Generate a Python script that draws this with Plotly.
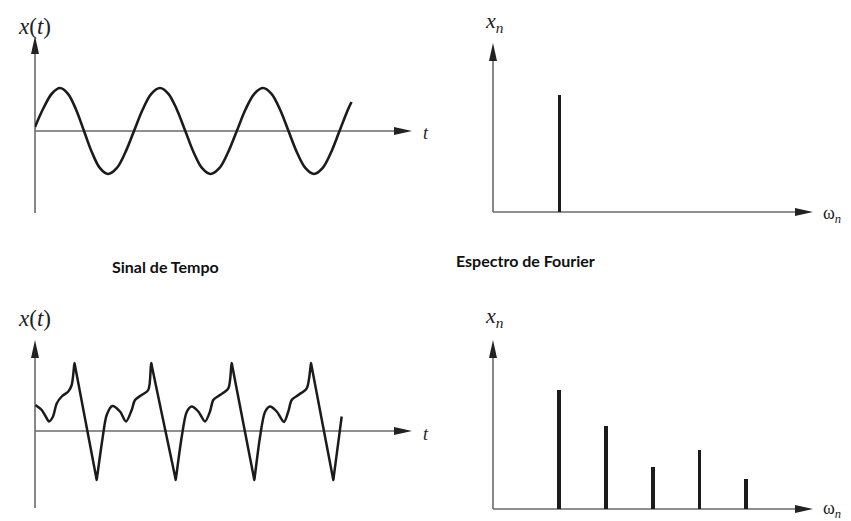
import plotly.graph_objects as go

W, H = 851, 521

# ---- data -------------------------------------------------------------
# pure sinusoid x(t) (top time signal)
t_sine = [0.0, 0.85, 1.7, 2.5, 3.3, 4.1, 4.9, 5.7, 6.5, 7.3, 8.17, 9.03, 9.9,
          10.77, 11.63, 12.5, 13.34, 14.18, 15.03, 15.87, 16.71, 17.55, 18.43,
          19.3, 20.18, 21.05, 21.93, 22.8, 23.65, 24.5, 25.35, 26.2, 27.05,
          27.9, 28.75, 29.6, 30.45, 31.3, 31.65]
x_sine = [0.4, 2.3, 3.75, 4.3, 3.72, 2.15, 0.0, -2.15, -3.72, -4.3, -3.72,
          -2.15, 0.0, 2.15, 3.72, 4.3, 3.72, 2.15, 0.0, -2.15, -3.72, -4.3,
          -3.72, -2.15, 0.0, 2.15, 3.72, 4.3, 3.72, 2.15, 0.0, -2.15, -3.72,
          -4.3, -3.72, -2.15, 0.0, 2.15, 2.9]

# periodic non-sinusoidal x(t) (bottom time signal)
t_wave = [0.05, 0.67, 1.07, 1.4, 1.8, 2.17, 2.67, 3.33, 3.67, 3.9, 3.95, 4.05,
          6.1, 6.17, 6.23, 6.73, 7.17, 7.73, 8.5, 9.1, 9.67, 10.0, 10.67, 11.33,
          11.58, 11.63, 11.73, 14.0, 14.07, 14.13, 14.67, 15.17, 15.67, 16.33,
          17.0, 17.5, 17.83, 18.5, 19.33, 19.62, 19.67, 19.77, 21.86, 21.93,
          21.99, 22.5, 23.0, 23.5, 24.17, 24.9, 25.33, 25.67, 26.33, 27.17,
          27.55, 27.6, 27.7, 29.76, 29.83, 29.89, 30.67]
x_wave = [2.6, 2.1, 1.45, 0.95, 1.45, 2.75, 3.45, 3.95, 4.6, 6.4, 6.8, 6.27,
          -4.53, -4.9, -4.47, -0.9, 1.6, 2.5, 1.95, 0.95, 2.1, 3.1, 3.6, 4.1,
          6.4, 6.8, 6.27, -4.53, -4.9, -4.47, -0.6, 1.9, 2.45, 1.95, 0.95, 1.95,
          3.1, 3.6, 4.27, 6.4, 6.8, 6.27, -4.53, -4.9, -4.47, -0.6, 1.9, 2.45,
          1.95, 0.9, 1.95, 3.1, 3.6, 4.27, 6.4, 6.8, 6.27, -4.53, -4.9, -4.47,
          1.45]

# Fourier spectra
w_top = [1]
xn_top = [11.7]
w_bottom = [1, 2, 3, 4, 5]
xn_bottom = [11.9, 8.3, 4.2, 5.9, 3.0]

# ---- panel geometry (pixels) ------------------------------------------
def fx(p):
    return p / W


def fy(p):
    return 1 - p / H


panels = {
    "tl": dict(ox=35, oy=131, xtip=412, ytip=36, ybot=213, sx=10, sy=10, x0=0.0),
    "tr": dict(ox=493, oy=212, xtip=813, ytip=43, ybot=212, sx=46.7, sy=10, x0=-0.42),
    "bl": dict(ox=35, oy=431, xtip=412, ytip=340, ybot=508, sx=10, sy=10, x0=0.0),
    "br": dict(ox=493, oy=509, xtip=813, ytip=340, ybot=509, sx=46.7, sy=10, x0=-0.42),
}
axis_ids = {"tl": "", "tr": "2", "bl": "3", "br": "4"}

AXIS_COLOR = "#6a6a6a"
INK = "#1b1b1b"
HEAD_LEN, HEAD_HALF = 18, 4

fig = go.Figure()

# time signals
fig.add_trace(go.Scatter(x=t_sine, y=x_sine, mode="lines", xaxis="x", yaxis="y",
                         line=dict(color=INK, width=2.6, shape="spline", smoothing=1.0),
                         hoverinfo="skip"))
fig.add_trace(go.Scatter(x=t_wave, y=x_wave, mode="lines", xaxis="x3", yaxis="y3",
                         line=dict(color=INK, width=2.5, shape="spline", smoothing=0.8),
                         hoverinfo="skip"))

# spectral lines
fig.add_trace(go.Bar(x=w_top, y=xn_top, width=0.075, xaxis="x2", yaxis="y2",
                     marker=dict(color=INK, line=dict(width=0)), hoverinfo="skip"))
fig.add_trace(go.Bar(x=w_bottom, y=xn_bottom, width=0.08, xaxis="x4", yaxis="y4",
                     marker=dict(color=INK, line=dict(width=0)), hoverinfo="skip"))

layout = dict(
    width=W, height=H, autosize=False,
    margin=dict(l=0, r=0, t=0, b=0),
    paper_bgcolor="white", plot_bgcolor="rgba(0,0,0,0)",
    showlegend=False, bargap=0,
)

shapes = []
for key, p in panels.items():
    aid = axis_ids[key]
    xr = [p["x0"], p["x0"] + (p["xtip"] - p["ox"]) / p["sx"]]
    yr = [(p["oy"] - p["ybot"]) / p["sy"], (p["oy"] - p["ytip"]) / p["sy"]]
    layout["xaxis" + aid] = dict(domain=[fx(p["ox"]), fx(p["xtip"])], range=xr,
                                 visible=False, fixedrange=True,
                                 anchor="y" + aid)
    layout["yaxis" + aid] = dict(domain=[fy(p["ybot"]), fy(p["ytip"])], range=yr,
                                 visible=False, fixedrange=True,
                                 anchor="x" + aid)
    ox, oy = p["ox"], p["oy"]
    # horizontal axis line + arrowhead
    shapes.append(dict(type="line", xref="paper", yref="paper", layer="below",
                       x0=fx(ox), y0=fy(oy), x1=fx(p["xtip"] - HEAD_LEN + 2), y1=fy(oy),
                       line=dict(color=AXIS_COLOR, width=1.6)))
    xt = p["xtip"]
    shapes.append(dict(type="path", xref="paper", yref="paper",
                       path=(f"M {fx(xt)},{fy(oy)} L {fx(xt - HEAD_LEN)},{fy(oy - HEAD_HALF)} "
                             f"L {fx(xt - HEAD_LEN)},{fy(oy + HEAD_HALF)} Z"),
                       fillcolor="#222222", line=dict(width=0)))
    # vertical axis line + arrowhead
    shapes.append(dict(type="line", xref="paper", yref="paper", layer="below",
                       x0=fx(ox), y0=fy(p["ybot"]), x1=fx(ox), y1=fy(p["ytip"] + HEAD_LEN - 2),
                       line=dict(color=AXIS_COLOR, width=1.6)))
    yt = p["ytip"]
    shapes.append(dict(type="path", xref="paper", yref="paper",
                       path=(f"M {fx(ox)},{fy(yt)} L {fx(ox - HEAD_HALF)},{fy(yt + HEAD_LEN)} "
                             f"L {fx(ox + HEAD_HALF)},{fy(yt + HEAD_LEN)} Z"),
                       fillcolor="#222222", line=dict(width=0)))

layout["shapes"] = shapes

SERIF = "Liberation Serif, DejaVu Serif, serif"
TITLE_FONT = "Lato, Open Sans, sans-serif"


def label(text, x, y, size, family=SERIF, color="#222222"):
    return dict(text=text, x=fx(x), y=fy(y), xref="paper", yref="paper",
                xanchor="center", yanchor="middle", showarrow=False,
                font=dict(family=family, size=size, color=color))


layout["annotations"] = [
    label("<i>x</i>(<i>t</i>)", 34, 26, 23),
    label("<i>x</i>(<i>t</i>)", 34, 318, 23),
    label("<i>t</i>", 426, 133, 18),
    label("<i>t</i>", 426, 434, 18),
    label("<i>x</i><sub><i>n</i></sub>", 494, 22, 22),
    label("<i>x</i><sub><i>n</i></sub>", 494, 317, 22),
    label("ω<sub><i>n</i></sub>", 832, 214, 18),
    label("ω<sub><i>n</i></sub>", 832, 509, 18),
    label("<b>Sinal de Tempo</b>", 165, 266, 16, TITLE_FONT, "#111111"),
    label("<b>Espectro de Fourier</b>", 525, 260, 16, TITLE_FONT, "#111111"),
]

fig.update_layout(**layout)
fig.write_html("out.html", config={"displayModeBar": False, "staticPlot": True})
